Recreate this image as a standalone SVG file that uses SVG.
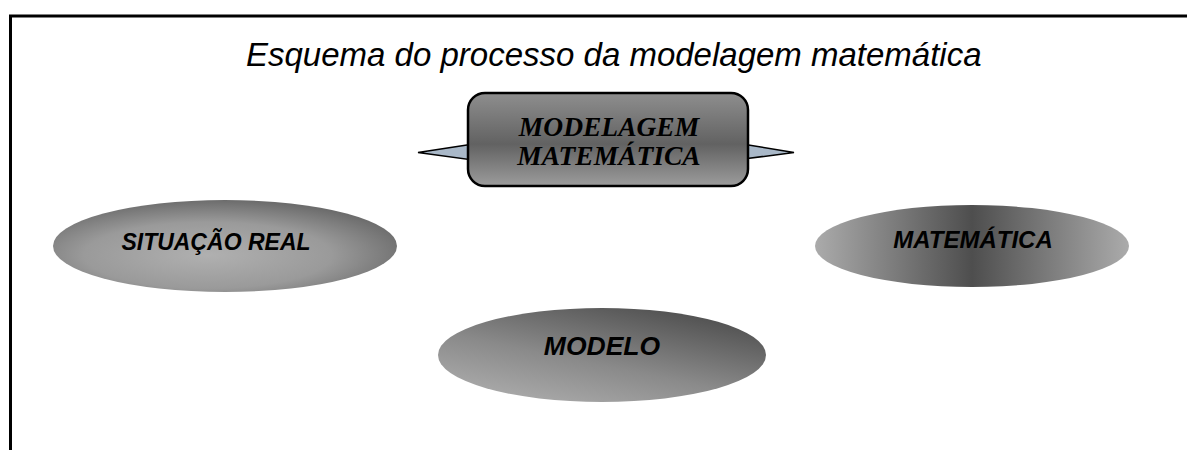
<svg xmlns="http://www.w3.org/2000/svg" width="1187" height="450" viewBox="0 0 1187 450">
  <style>
    .frame { stroke: #000; stroke-width: 3; fill: none; }
    .title { font-family: "Liberation Sans", Arial, sans-serif; font-style: italic; font-size: 33px; fill: #000; }
    .ellipse-label { font-family: "Liberation Sans", Arial, sans-serif; font-style: italic; font-weight: bold; font-size: 23px; fill: #000; text-anchor: middle; }
    .box-label { font-family: "Liberation Serif", "Times New Roman", serif; font-style: italic; font-weight: bold; font-size: 27.5px; fill: #000; text-anchor: middle; }
    .pointer { fill: #a9b8c8; stroke: #000; stroke-width: 1.5; stroke-linejoin: miter; }
    .box { stroke: #000; stroke-width: 2.5; }
  </style>
  <defs>
    <linearGradient id="boxFill" x1="0" y1="0" x2="0" y2="1">
      <stop offset="0" stop-color="#8e8e8e"/>
      <stop offset="0.55" stop-color="#626262"/>
      <stop offset="1" stop-color="#9c9c9c"/>
    </linearGradient>
    <radialGradient id="realFill" cx="0.45" cy="0.6" r="0.6">
      <stop offset="0" stop-color="#b0b0b0"/>
      <stop offset="0.6" stop-color="#9a9a9a"/>
      <stop offset="1" stop-color="#6c6c6c"/>
    </radialGradient>
    <linearGradient id="mathFill" x1="0" y1="0" x2="1" y2="0">
      <stop offset="0" stop-color="#ababab"/>
      <stop offset="0.5" stop-color="#4e4e4e"/>
      <stop offset="1" stop-color="#ababab"/>
    </linearGradient>
    <linearGradient id="modelFill" x1="0.1" y1="1" x2="0.8" y2="0">
      <stop offset="0" stop-color="#b0b0b0"/>
      <stop offset="0.45" stop-color="#8a8a8a"/>
      <stop offset="1" stop-color="#4c4c4c"/>
    </linearGradient>
  </defs>

  <!-- page frame -->
  <g id="frame">
    <path class="frame" d="M10.5 450 V16 H1187"/>
  </g>

  <!-- heading -->
  <g id="heading">
    <text class="title" x="246" y="66">Esquema do processo da modelagem matemática</text>
  </g>

  <!-- central callout with side pointers -->
  <g id="modelagem">
    <polygon class="pointer" points="480,143 418,152.5 480,161"/>
    <polygon class="pointer" points="736,143 794,152.5 736,160"/>
    <rect class="box" x="468" y="93" width="280" height="93" rx="17" ry="17" fill="url(#boxFill)"/>
    <text class="box-label" x="609" y="136">MODELAGEM</text>
    <text class="box-label" x="609" y="165">MATEMÁTICA</text>
  </g>

  <g id="situacao-real">
    <ellipse cx="225" cy="246" rx="172" ry="46" fill="url(#realFill)"/>
    <text class="ellipse-label" x="216" y="250">SITUAÇÃO REAL</text>
  </g>

  <g id="matematica">
    <ellipse cx="972" cy="246" rx="157" ry="41" fill="url(#mathFill)"/>
    <text class="ellipse-label" x="973" y="248" style="font-size:24px">MATEMÁTICA</text>
  </g>

  <g id="modelo">
    <ellipse cx="602" cy="355" rx="164" ry="47" fill="url(#modelFill)"/>
    <text class="ellipse-label" x="602" y="355" style="font-size:26.5px">MODELO</text>
  </g>

  <!-- no connectors are drawn between the shapes -->
  <g id="connectors"/>
</svg>
